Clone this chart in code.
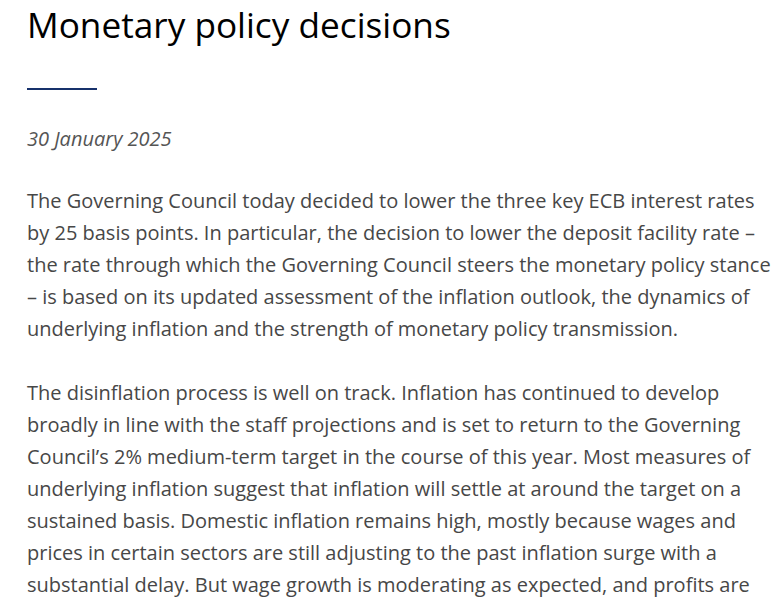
<!DOCTYPE html>
<html>
<head>
<meta charset="utf-8">
<script src="https://cdn.jsdelivr.net/npm/chart.js"></script>
<style>
  html, body { margin: 0; padding: 0; background: #fff; width: 773px; height: 609px; overflow: hidden; }
  body { font-family: "Open Sans", sans-serif; }
  h1 { position: absolute; left: 27px; top: -1px; margin: 0; font-size: 35.2px; font-weight: 500; color: #000; line-height: 50px; white-space: nowrap; }
  .rule { position: absolute; left: 27px; top: 88px; width: 70px; height: 2px; background: #17316b; }
  .date { position: absolute; left: 27px; top: 124px; font-size: 20px; font-style: italic; color: #555; line-height: 30px; white-space: nowrap; }
  .para { position: absolute; left: 27px; font-size: 20px; color: #474747; line-height: 32px; }
  .para div { white-space: nowrap; }
</style>
</head>
<body>
<h1 id="title"></h1>
<div class="rule"></div>
<div class="date" id="date"></div>
<div class="para" id="p1" style="top:185px"></div>
<div class="para" id="p2" style="top:377px"></div>
<script>
const title = "Monetary policy decisions";
const dateText = "30 January 2025";
const paragraph1 = [
  "The Governing Council today decided to lower the three key ECB interest rates",
  "by 25 basis points. In particular, the decision to lower the deposit facility rate \u2013",
  "the rate through which the Governing Council steers the monetary policy stance",
  "\u2013 is based on its updated assessment of the inflation outlook, the dynamics of",
  "underlying inflation and the strength of monetary policy transmission."
];
const paragraph2 = [
  "The disinflation process is well on track. Inflation has continued to develop",
  "broadly in line with the staff projections and is set to return to the Governing",
  "Council\u2019s 2% medium-term target in the course of this year. Most measures of",
  "underlying inflation suggest that inflation will settle at around the target on a",
  "sustained basis. Domestic inflation remains high, mostly because wages and",
  "prices in certain sectors are still adjusting to the past inflation surge with a",
  "substantial delay. But wage growth is moderating as expected, and profits are"
];
document.getElementById('title').textContent = title;
document.getElementById('date').textContent = dateText;
function fill(id, lines) {
  const el = document.getElementById(id);
  lines.forEach(t => { const d = document.createElement('div'); d.textContent = t; el.appendChild(d); });
}
fill('p1', paragraph1);
fill('p2', paragraph2);
</script>
</body>
</html>
